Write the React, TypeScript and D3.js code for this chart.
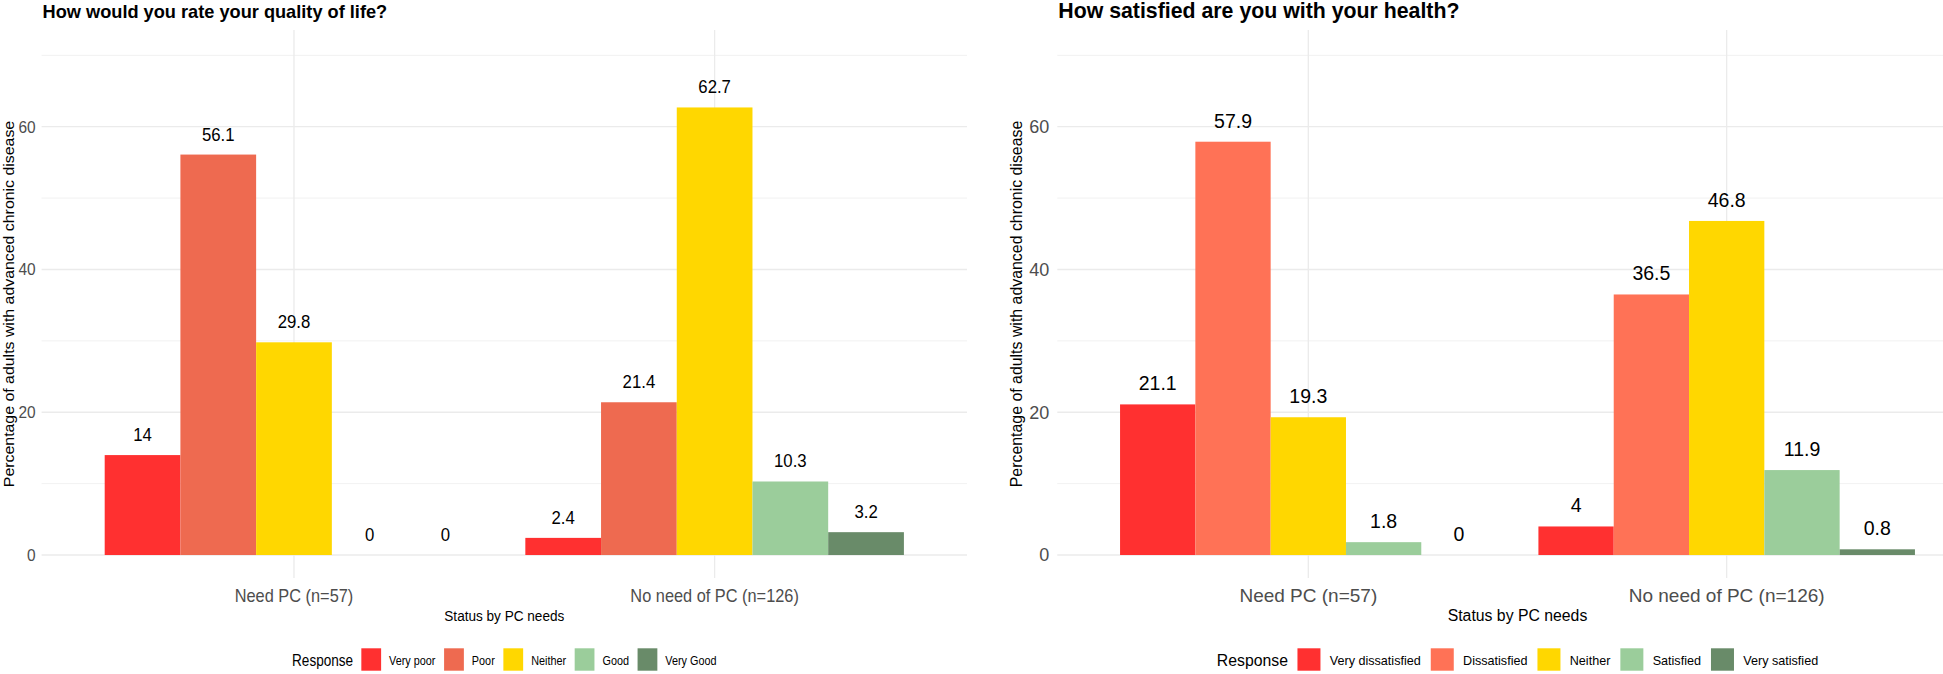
import React, { useEffect, useRef } from 'react';
import * as d3 from 'd3';

// status groups on the x axis
const groups = ['Need PC (n=57)', 'No need of PC (n=126)'];

// left panel: quality of life
const qolTitle = 'How would you rate your quality of life?';
const qolResponses = ['Very poor', 'Poor', 'Neither', 'Good', 'Very Good'];
const qolNeed = [14, 56.1, 29.8, 0, 0];
const qolNoNeed = [2.4, 21.4, 62.7, 10.3, 3.2];
const qolColors = ['#FF3030', '#EE6A50', '#FFD700', '#9BCD9B', '#698B69'];

// right panel: health satisfaction
const healthTitle = 'How satisfied are you with your health?';
const healthResponses = ['Very dissatisfied', 'Dissatisfied', 'Neither', 'Satisfied', 'Very satisfied'];
const healthNeed = [21.1, 57.9, 19.3, 1.8, 0];
const healthNoNeed = [4, 36.5, 46.8, 11.9, 0.8];
const healthColors = ['#FF3030', '#FF7256', '#FFD700', '#9BCD9B', '#698B69'];

const yMajor = [0, 20, 40, 60];
const yMinor = [10, 30, 50, 70];

const W = 1943;
const H = 674;
const FONT = "'Liberation Sans', Arial, Helvetica, sans-serif";

interface PanelCfg {
  title: string;
  responses: string[];
  values: number[][];
  colors: string[];
  x0: number;
  x1: number;
  titleSize: number;
  sx: number; // horizontal text squeeze
  fs: number; // font multiplier
  legendSx: number;
  tickGap: number;
  yLabelX: number;
}

const panels: PanelCfg[] = [
  {
    title: qolTitle, responses: qolResponses, values: [qolNeed, qolNoNeed], colors: qolColors,
    x0: 41.6, x1: 967, titleSize: 18.2, sx: 0.925, fs: 0.93, legendSx: 0.86, tickGap: 6, yLabelX: 8.5
  },
  {
    title: healthTitle, responses: healthResponses, values: [healthNeed, healthNoNeed], colors: healthColors,
    x0: 1057.3, x1: 1977.7, titleSize: 21.3, sx: 1, fs: 1, legendSx: 1, tickGap: 8, yLabelX: 1016.5
  }
];

const App: React.FC = () => {
  const svgRef = useRef<SVGSVGElement>(null);

  useEffect(() => {
    if (!svgRef.current) return;
    const svg = d3.select(svgRef.current);
    svg.selectAll('*').remove();

    const y = d3.scaleLinear().domain([-3.22, 73.55]).range([578, 30]);

    panels.forEach(p => {
      const g = svg.append('g');
      const x = d3.scalePoint<string>().domain(groups).range([p.x0, p.x1]).padding(0.6);
      const step = x.step();
      const xSub = d3.scaleBand<string>().domain(p.responses).range([-0.45 * step, 0.45 * step]).padding(0);

      const squeezed = (sel: d3.Selection<SVGTextElement, unknown, null, undefined>, tx: number, ty: number, extra = '') =>
        sel.attr('transform', `translate(${tx},${ty}) scale(${p.sx},1)${extra}`);

      // gridlines
      yMinor.forEach(v => {
        g.append('line').attr('x1', p.x0).attr('x2', p.x1).attr('y1', y(v)).attr('y2', y(v))
          .attr('stroke', '#ebebeb').attr('stroke-width', 0.7);
      });
      yMajor.forEach(v => {
        g.append('line').attr('x1', p.x0).attr('x2', p.x1).attr('y1', y(v)).attr('y2', y(v))
          .attr('stroke', '#ebebeb').attr('stroke-width', 1.3);
      });
      groups.forEach(c => {
        g.append('line').attr('x1', x(c)!).attr('x2', x(c)!).attr('y1', 30).attr('y2', 578)
          .attr('stroke', '#ebebeb').attr('stroke-width', 1.3);
      });

      // bars and value labels
      groups.forEach((c, gi) => {
        p.responses.forEach((r, ri) => {
          const v = p.values[gi][ri];
          const bx = x(c)! + xSub(r)!;
          g.append('rect')
            .attr('x', bx).attr('y', y(v))
            .attr('width', xSub.bandwidth()).attr('height', y(0) - y(v))
            .attr('fill', p.colors[ri]);
          const t = g.append('text')
            .attr('font-family', FONT).attr('font-size', 19.5 * p.fs)
            .attr('text-anchor', 'middle').attr('fill', '#000')
            .text(String(v));
          squeezed(t, bx + xSub.bandwidth() / 2, y(v) - 14);
        });
      });

      // y tick labels
      yMajor.forEach(v => {
        const t = g.append('text')
          .attr('font-family', FONT).attr('font-size', 18 * p.fs)
          .attr('text-anchor', 'end').attr('dy', '0.35em').attr('fill', '#4d4d4d')
          .text(String(v));
        squeezed(t, p.x0 - p.tickGap, y(v));
      });

      // x category labels
      groups.forEach(c => {
        const t = g.append('text')
          .attr('font-family', FONT).attr('font-size', 19 * p.fs)
          .attr('text-anchor', 'middle').attr('fill', '#4d4d4d')
          .text(c);
        squeezed(t, x(c)!, 602);
      });

      // axis titles
      const xt = g.append('text')
        .attr('font-family', FONT).attr('font-size', 15.8 * p.fs)
        .attr('text-anchor', 'middle').attr('fill', '#000')
        .text('Status by PC needs');
      squeezed(xt, (p.x0 + p.x1) / 2, 621);

      const yt = g.append('text')
        .attr('font-family', FONT).attr('font-size', 15.9)
        .attr('text-anchor', 'middle').attr('dy', '0.35em').attr('fill', '#000')
        .text('Percentage of adults with advanced chronic disease');
      squeezed(yt, p.yLabelX, 304, ' rotate(-90)');

      // title
      g.append('text')
        .attr('x', p.x0 + 1).attr('y', 18.3)
        .attr('font-family', FONT).attr('font-size', p.titleSize).attr('font-weight', 'bold')
        .attr('fill', '#000')
        .text(p.title);

      // legend
      const lg = g.append('g')
        .attr('transform', `translate(${(p.x0 + p.x1) / 2},0) scale(${p.legendSx},1)`);
      const inner = lg.append('g');
      let cx = 0;
      const lt = inner.append('text')
        .attr('x', cx).attr('y', 666)
        .attr('font-family', FONT).attr('font-size', 15.8).attr('fill', '#000')
        .text('Response');
      cx += (lt.node() as SVGTextElement).getComputedTextLength() + 9.5;
      p.responses.forEach((r, ri) => {
        inner.append('rect')
          .attr('x', cx).attr('y', 648.3).attr('width', 23).attr('height', 22.4)
          .attr('fill', p.colors[ri]);
        cx += 23 + 9.3;
        const t = inner.append('text')
          .attr('x', cx).attr('y', 665)
          .attr('font-family', FONT).attr('font-size', 12.6).attr('fill', '#000')
          .text(r);
        cx += (t.node() as SVGTextElement).getComputedTextLength();
        if (ri < p.responses.length - 1) cx += 10;
      });
      inner.attr('transform', `translate(${-cx / 2},0)`);
    });
  }, []);

  return (
    <svg
      ref={svgRef}
      width={W}
      height={H}
      viewBox={`0 0 ${W} ${H}`}
      style={{ position: 'absolute', left: 0, top: 0, background: '#fff' }}
    />
  );
};

export default App;
